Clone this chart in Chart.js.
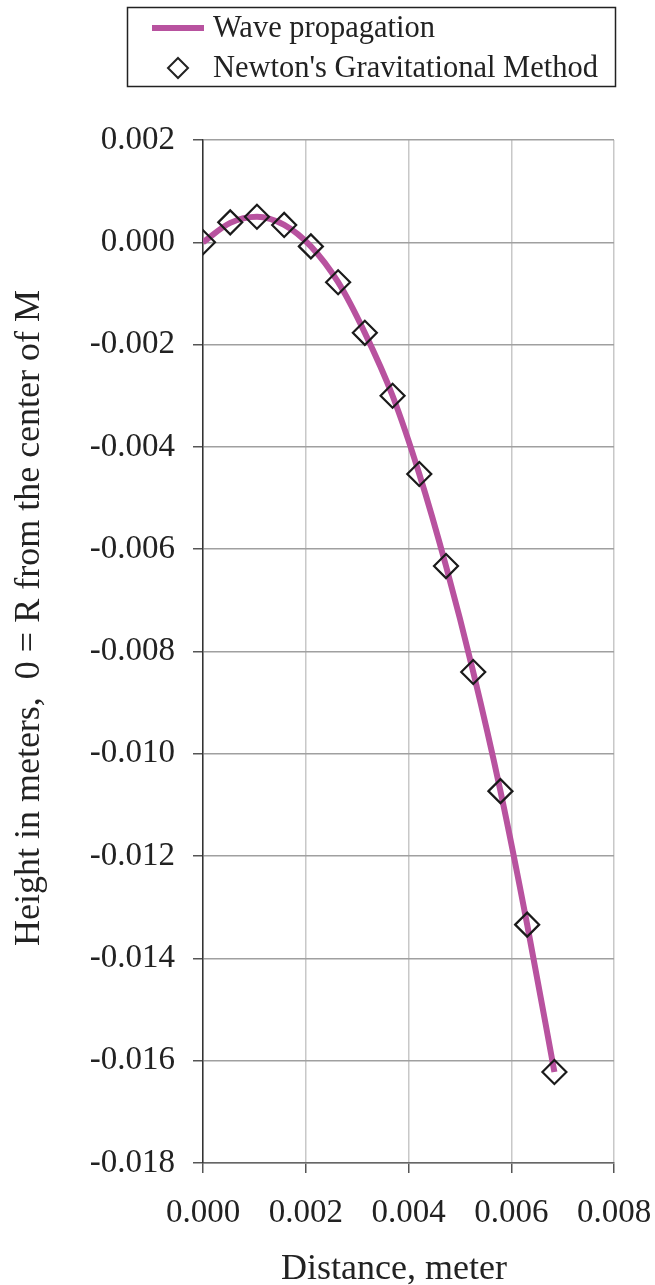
<!DOCTYPE html>
<html>
<head>
<meta charset="utf-8">
<script src="https://cdn.jsdelivr.net/npm/chart.js@4/dist/chart.umd.min.js"></script>
<style>
  html, body { margin: 0; padding: 0; background: #fff; }
  canvas { display: block; }
</style>
</head>
<body>
<canvas id="chart" width="655" height="1285"></canvas>
<script>
// distance along the surface, meter
var distances = [0, 0.00053, 0.00105, 0.00158, 0.0021, 0.00263, 0.00315, 0.00369, 0.00421, 0.00473, 0.00526, 0.00579, 0.00631, 0.00684];
// wave propagation height, meter
var waveHeights = [0, 0.00038, 0.0005, 0.00034, -0.00008, -0.00078, -0.00177, -0.0030, -0.00453, -0.00633, -0.0084, -0.01073, -0.01334, -0.01622];
// newton's method height, meter
var newtonHeights = [0, 0.00039, 0.0005, 0.00034, -0.00008, -0.00078, -0.00177, -0.0030, -0.00453, -0.00633, -0.0084, -0.01073, -0.01334, -0.01622];

var legendLabels = ["Wave propagation", "Newton's Gravitational Method"];
var xTitle = "Distance, meter";
var yTitle = "Height in meters,  0 = R from the center of M";

var serif = "'Liberation Serif', 'Times New Roman', serif";
var waveColor = "#b8529f";

function toPoints(xs, ys){
	var pts = [];
	for (var i = 0; i < xs.length; i++){
		pts.push({ x: xs[i], y: ys[i] });
	}
	return pts;
}

// legend box and axis titles, drawn on the canvas
var decorations = {
	id: 'decorations',
	afterDraw: function(chart){
		var ctx = chart.ctx;
		ctx.save();

		// legend
		ctx.strokeStyle = '#222';
		ctx.lineWidth = 1.5;
		ctx.strokeRect(127.5, 7.5, 488, 79);

		ctx.strokeStyle = waveColor;
		ctx.lineWidth = 6;
		ctx.beginPath();
		ctx.moveTo(152, 28);
		ctx.lineTo(204, 28);
		ctx.stroke();

		ctx.strokeStyle = '#222';
		ctx.lineWidth = 2;
		ctx.beginPath();
		ctx.moveTo(178, 58);
		ctx.lineTo(188, 68);
		ctx.lineTo(178, 78);
		ctx.lineTo(168, 68);
		ctx.closePath();
		ctx.stroke();

		ctx.fillStyle = '#222';
		ctx.font = '30.5px ' + serif;
		ctx.textAlign = 'left';
		ctx.textBaseline = 'middle';
		ctx.fillText(legendLabels[0], 213, 29);
		ctx.fillText(legendLabels[1], 213, 69);

		// x title
		ctx.font = '36px ' + serif;
		ctx.textAlign = 'center';
		ctx.textBaseline = 'alphabetic';
		ctx.fillText(xTitle, 394, 1279);

		// y title
		ctx.translate(39, 618);
		ctx.rotate(-Math.PI / 2);
		ctx.fillText(yTitle, 0, 0);

		ctx.restore();
	}
};

var fmt = function(v){
	if (Math.abs(v) < 1e-12) { v = 0; }
	return Number(v).toFixed(3);
};

new Chart(document.getElementById('chart'), {
	type: 'scatter',
	data: {
		datasets: [{
			label: legendLabels[1],
			data: toPoints(distances, newtonHeights),
			order: 0,
			showLine: false,
			pointStyle: 'rectRot',
			pointRadius: 12,
			pointHoverRadius: 12,
			borderColor: '#1a1a1a',
			borderWidth: 2.2,
			backgroundColor: 'rgba(255,255,255,0)'
		}, {
			label: legendLabels[0],
			data: toPoints(distances, waveHeights),
			order: 1,
			showLine: true,
			borderColor: waveColor,
			borderWidth: 6,
			pointRadius: 0,
			cubicInterpolationMode: 'monotone',
			fill: false
		}]
	},
	options: {
		responsive: false,
		animation: false,
		events: [],
		layout: { padding: { top: 140, right: 41, left: 0, bottom: 0 } },
		plugins: {
			legend: { display: false },
			tooltip: { enabled: false }
		},
		scales: {
			x: {
				type: 'linear',
				min: 0,
				max: 0.008,
				afterFit: function(scale){
					scale.height = 122;
					scale.paddingLeft = 0;
					scale.paddingRight = 0;
				},
				ticks: {
					stepSize: 0.002,
					callback: fmt,
					color: '#222',
					padding: 21,
					maxRotation: 0,
					font: { family: serif, size: 33 }
				},
				grid: { color: '#c8c8c8', lineWidth: 1.5, tickLength: 10, tickColor: '#555' },
				border: { color: '#666', width: 1.5 }
			},
			y: {
				type: 'linear',
				min: -0.018,
				max: 0.002,
				afterFit: function(scale){
					scale.width = 203;
					scale.paddingTop = 0;
					scale.paddingBottom = 0;
				},
				ticks: {
					stepSize: 0.002,
					callback: fmt,
					color: '#222',
					padding: 18,
					font: { family: serif, size: 33 }
				},
				grid: { color: '#a0a0a0', lineWidth: 1.5, tickLength: 10, tickColor: '#555' },
				border: { color: '#333', width: 1.5 }
			}
		}
	},
	plugins: [decorations]
});
</script>
</body>
</html>
